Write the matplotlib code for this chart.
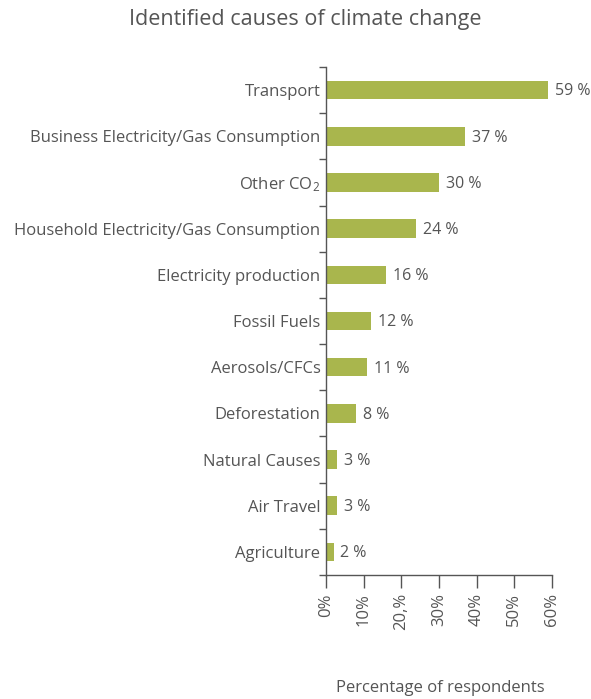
import numpy as np
import matplotlib
matplotlib.use("Agg")
import matplotlib.pyplot as plt

plt.rcParams['font.family'] = ['Open Sans', 'DejaVu Sans']
plt.rcParams['mathtext.fontset'] = 'custom'
plt.rcParams['mathtext.rm'] = 'Open Sans'
plt.rcParams['mathtext.it'] = 'Open Sans'

# ---- data ----
causes = ["Transport", "Business Electricity/Gas Consumption", "Other CO$_2$",
          "Household Electricity/Gas Consumption", "Electricity production",
          "Fossil Fuels", "Aerosols/CFCs", "Deforestation", "Natural Causes",
          "Air Travel", "Agriculture"]
pct = [59, 37, 30, 24, 16, 12, 11, 8, 3, 3, 2]
xticks = [0, 10, 20, 30, 40, 50, 60]
xticklabels = ["0%", "10%", "20,%", "30%", "40%", "50%", "60%"]

txt = "#555555"
bar_col = "#a9b64d"

fig = plt.figure(figsize=(5.91, 6.99), dpi=100)
ax = fig.add_axes([326/591, 1-575/699, 226/591, (575-67)/699])

y = np.arange(len(causes))
ax.barh(y, pct, height=0.4, color=bar_col)
for yi, v in zip(y, pct):
    ax.text(v + 1.8, yi + 0.03, f"{v} %", va="center", ha="left", fontsize=11.5, color=txt)

ax.set_xlim(0, 60)
ax.set_ylim(len(causes) - 0.5, -0.5)
ax.set_yticks(y)
ax.set_yticklabels(causes, fontsize=12, color=txt)
ax.tick_params(axis="y", length=0, pad=4)
ax.set_yticks(np.arange(len(causes) + 1) - 0.5, minor=True)
ax.tick_params(axis="y", which="minor", length=5, color=txt, width=1)

ax.set_xticks(xticks)
ax.set_xticklabels(xticklabels, rotation=90, fontsize=12, color=txt)
ax.tick_params(axis="x", length=9, color=txt, width=1, pad=4)

for s in ["top", "right"]:
    ax.spines[s].set_visible(False)
for s in ["left", "bottom"]:
    ax.spines[s].set_color(txt)
    ax.spines[s].set_linewidth(1)

fig.text(305/591, 1-20/699, "Identified causes of climate change", ha="center", va="center",
         fontsize=15.5, color=txt)
fig.text(440/591, 1-688/699, "Percentage of respondents", ha="center", va="center",
         fontsize=12, color=txt)

fig.savefig("out.png", dpi=100)
